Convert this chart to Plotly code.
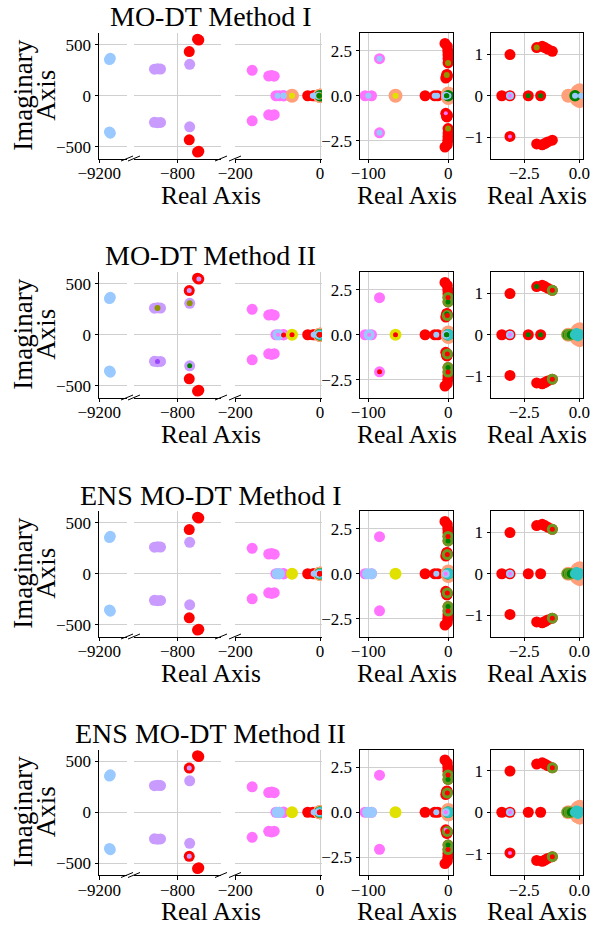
import plotly.graph_objects as go

W, H = 597, 927
FONT = "Liberation Serif"

TITLES = ["MO-DT Method I", "MO-DT Method II", "ENS MO-DT Method I", "ENS MO-DT Method II"]
X_LABEL = "Real Axis"
Y_LABEL_LINES = ["Imaginary", "Axis"]

# ---- axis ranges / ticks ----
SEG_RANGES = [[-9200.5, -9135], [-900, -700], [-200.5, 4.7]]
SEG_TICKS = [[-9200], [-800], [-200, 0]]
BIG_Y_RANGE = [-617, 617]
BIG_Y_TICKS = [-500, 0, 500]
MID_X_RANGE = [-110.4, 5.9]
MID_X_TICKS = [-100, 0]
MID_Y_RANGE = [-3.5, 3.5]
MID_Y_TICKS = [-2.5, 0, 2.5]
SMALL_X_RANGE = [-4.0, 0.17]
SMALL_X_TICKS = [-2.5, 0]
SMALL_Y_RANGE = [-1.51, 1.51]
SMALL_Y_TICKS = [-1, 0, 1]

# ---- eigenvalues common to every row ----
RED_X = [-773, -773, -751, -751, -754, -754, -29, -17, -13, -3.51, -3.14, -2.31, -1.75,
         -3.14, -3.14, -1.93, -1.93, -1.68, -1.68, -1.56, -1.56, -1.43, -1.43, -1.22, -1.22,
         -4.1, -4.1, -1.2, -1.2, -0.6, -0.6, -0.4, -0.4, -0.3, -0.3, -0.3, -0.3]
RED_Y = [434, -433, 548, -546, 556, -554, 0, 0, 0, 0, 0, 0, 0,
         0.99, -0.98, 1.16, -1.16, 1.19, -1.18, 1.16, -1.15, 1.12, -1.11, 1.07, -1.07,
         2.92, -2.86, 2.75, -2.72, 2.5, -2.5, 2.28, -2.28, 2.08, -2.08, 1.83, -1.83]
LIGHTBLUE_X = [-9176, -9174, -9176, -9174]
LIGHTBLUE_Y = [356, 368, -356, -368]
PURPLE_X = [-853, -846, -839, -853, -846, -839, -772, -772]
PURPLE_Y = [261, 265, 262, -261, -265, -262, 309, -306]
PINK_X = [-160, -160, -121, -114, -108, -121, -114, -108, -104, -96, -86, -86]
PINK_Y = [250, -246, 194, 198, 192, -188, -193, -186, 0, 0, 2.07, -2.07]
ORANGE_X = [-0.5, -0.08, -0.08, 0.02, 0.02, 0.06]
ORANGE_Y = [0, 0.1, -0.1, 0.13, -0.13, 0]

# ---- row specific eigenvalues (one list per row) ----
ORANGE_ROW_X = [[-66], [], [], []]
ORANGE_ROW_Y = [[0], [], [], []]
LIGHTBLUE_ROW_X = [[], [-99], [-101, -96], [-101, -96]]
LIGHTBLUE_ROW_Y = [[], [0], [0, 0], [0, 0]]
YELLOW_ROW_X = [[], [-66], [-66], [-66]]
YELLOW_ROW_Y = [[], [0], [0], [0]]
OLIVEDRAB_X = [[], [-0.3, -0.3, -0.3, -0.3, -1.22, -1.22]] + [[-0.3, -0.3, -0.3, -0.3, -1.22, -1.22]] * 2
OLIVEDRAB_Y = [[], [2.08, -2.08, 1.83, -1.83, 1.07, -1.07]] + [[2.08, -2.08, 1.83, -1.83, 1.07, -1.07]] * 2
GREEN_BIG_X = [[-0.19], [-0.55, -0.45, -0.38], [-0.55, -0.45, -0.38], [-0.55, -0.45, -0.38]]
GREEN_BIG_Y = [[0], [0, 0, 0], [0, 0, 0], [0, 0, 0]]
CYAN_X = [[], [-0.2, -0.12, -0.06, 0.0], [-0.2, -0.12, -0.06, 0.0], [-0.2, -0.12, -0.06, 0.0]]
CYAN_Y = [[], [0, 0.04, -0.04, 0.02], [0, 0.04, -0.04, 0.02], [0, 0.04, -0.04, 0.02]]
LIGHTBLUE_MID_X = [[-3.14], [-3.14], [-3.14], [-3.14]]
LIGHTBLUE_MID_Y = [[0], [0], [0], [0]]
YELLOW_DOT_X = [[-66], [], [], []]
YELLOW_DOT_Y = [[0], [], [], []]
LIGHTBLUE_DOT_X = [[-100, -86, -86, -17, -14, -0.19, 0.08], [-15], [-15], [-15]]
LIGHTBLUE_DOT_Y = [[0, 2.07, -2.07, 0, 0, 0, 0], [0], [0], [0]]
PINK_DOT_X = [[-3.14, -3.14], [-99, -3.14], [-3.14], [-3.14, -3.14]]
PINK_DOT_Y = [[0, -0.98], [0, 0], [0], [0, -0.98]]
PURPLE_DOT_X = [[], [-773, -751], [], [-773, -773]]
PURPLE_DOT_Y = [[], [434, 548], [], [434, -433]]
DARKPURPLE_DOT_X = [[], [-846], [], []]
DARKPURPLE_DOT_Y = [[], [-263], [], []]
OLIVE_DOT_X = [[-1.93, -0.3, -0.3], [-846, -772], [], []]
OLIVE_DOT_Y = [[1.16, 1.83, -1.83], [263, 309], [], []]
GREEN_DOT_X = [[-2.31, -1.75], [-772, -1.93, -2.31, -1.75, -0.3, -0.3], [-0.3, -0.3], [-0.3, -0.3]]
GREEN_DOT_Y = [[0, 0], [-306, 1.16, 0, 0, 1.83, -1.83], [1.83, -1.83], [1.83, -1.83]]
RED_DOT_X = [[], [-66, -86, -0.3, -0.3, -1.22, -1.22]] + [[-0.3, -0.3, -1.22, -1.22]] * 2
RED_DOT_Y = [[], [0, -2.07, 2.08, -2.08, 1.07, -1.07]] + [[2.08, -2.08, 1.07, -1.07]] * 2

C_RED = "#ff0000"
C_LB = "#99c9ff"
C_PURPLE = "#c99bff"
C_PINK = "#ff73ff"
C_ORANGE = "#ffa07a"
C_YELLOW = "#e1e100"
C_OLIVEDRAB = "#6b9a23"
C_GREEN = "#008000"
C_CYAN = "#2ec4c4"
C_OLIVE = "#8f9400"
C_DARKPURPLE = "#9b45ff"
GRID = "#cfcfcf"

# ---- layout geometry (pixels) ----
X_DOM_PX = [(99, 127), (134, 221), (235, 322), (360, 453), (491, 583)]
ROW_TOP_PX = [33, 272, 511, 749.5]
PANEL_H = 125.5

fig = go.Figure()


def xname(k):
    return "x" if k == 1 else f"x{k}"


def yname(j):
    return "y" if j == 1 else f"y{j}"


def add_layer(r, xs, ys, color, size, lw=0, lc=None):
    if not xs:
        return
    for p in range(5):
        k = r * 5 + p + 1
        g = 0 if p < 3 else p - 2
        j = r * 3 + g + 1
        fig.add_trace(go.Scatter(
            x=xs, y=ys, mode="markers",
            marker=dict(color=color, size=size, line=dict(width=lw, color=lc or color)),
            xaxis=xname(k), yaxis=yname(j), showlegend=False, hoverinfo="skip",
            cliponaxis=True))


for r in range(4):
    add_layer(r, RED_X, RED_Y, C_RED, 11)
    add_layer(r, LIGHTBLUE_X, LIGHTBLUE_Y, C_LB, 11)
    add_layer(r, PURPLE_X, PURPLE_Y, C_PURPLE, 11)
    add_layer(r, PINK_X, PINK_Y, C_PINK, 11)
    add_layer(r, ORANGE_X, ORANGE_Y, C_ORANGE, 14)
    add_layer(r, ORANGE_ROW_X[r], ORANGE_ROW_Y[r], C_ORANGE, 14)
    add_layer(r, LIGHTBLUE_ROW_X[r], LIGHTBLUE_ROW_Y[r], C_LB, 11)
    add_layer(r, YELLOW_ROW_X[r], YELLOW_ROW_Y[r], C_YELLOW, 12)
    add_layer(r, OLIVEDRAB_X[r], OLIVEDRAB_Y[r], C_OLIVEDRAB, 11)
    add_layer(r, GREEN_BIG_X[r], GREEN_BIG_Y[r], C_GREEN, 10, 1.5, C_OLIVEDRAB if r > 0 else C_GREEN)
    add_layer(r, CYAN_X[r], CYAN_Y[r], C_CYAN, 10)
    add_layer(r, LIGHTBLUE_MID_X[r], LIGHTBLUE_MID_Y[r], C_LB, 8)
    add_layer(r, YELLOW_DOT_X[r], YELLOW_DOT_Y[r], C_YELLOW, 6)
    add_layer(r, LIGHTBLUE_DOT_X[r], LIGHTBLUE_DOT_Y[r], C_LB, 6)
    add_layer(r, PINK_DOT_X[r], PINK_DOT_Y[r], C_PINK, 4)
    add_layer(r, PURPLE_DOT_X[r], PURPLE_DOT_Y[r], C_PURPLE, 5)
    add_layer(r, DARKPURPLE_DOT_X[r], DARKPURPLE_DOT_Y[r], C_DARKPURPLE, 5)
    add_layer(r, OLIVE_DOT_X[r], OLIVE_DOT_Y[r], C_OLIVE, 6)
    add_layer(r, GREEN_DOT_X[r], GREEN_DOT_Y[r], C_GREEN, 5)
    add_layer(r, RED_DOT_X[r], RED_DOT_Y[r], C_RED, 5)

tickfont = dict(family=FONT, size=17, color="black")
layout = dict(template="none", width=W, height=H, margin=dict(l=0, r=0, t=0, b=0, pad=0),
              paper_bgcolor="white", plot_bgcolor="white", showlegend=False)
annotations = []
shapes = []

for r in range(4):
    top = ROW_TOP_PX[r]
    bot = top + PANEL_H
    ydom = [1 - bot / H, 1 - top / H]
    for p in range(5):
        k = r * 5 + p + 1
        g = 0 if p < 3 else p - 2
        j = r * 3 + g + 1
        x0, x1 = X_DOM_PX[p]
        if p < 3:
            rng, tv, fmt = SEG_RANGES[p], SEG_TICKS[p], None
        elif p == 3:
            rng, tv, fmt = MID_X_RANGE, MID_X_TICKS, None
        else:
            rng, tv, fmt = SMALL_X_RANGE, SMALL_X_TICKS, ".1f"
        xa = dict(domain=[x0 / W, x1 / W], anchor=yname(j), range=rng, tickvals=tv,
                  automargin=False, ticklabelstandoff=-4,
                  showgrid=True, gridcolor=GRID, gridwidth=1, zeroline=False,
                  showline=True, linecolor="black", linewidth=1, mirror=(p >= 3),
                  ticks="outside", ticklen=3.5, tickcolor="black", tickfont=tickfont)
        if fmt:
            xa["tickformat"] = fmt
        layout["xaxis" if k == 1 else f"xaxis{k}"] = xa
        if p in (0, 3, 4):
            annotations.append(dict(text=X_LABEL, x=((x0 + x1) / 2 if p >= 3 else 210.5) / W,
                                    y=1 - (bot + 36.5) / H, xref="paper", yref="paper",
                                    showarrow=False, xanchor="center", yanchor="middle",
                                    font=dict(family=FONT, size=25.5, color="black")))
    for g in range(3):
        j = r * 3 + g + 1
        if g == 0:
            anchor, rng, tv, fmt, mir = r * 5 + 1, BIG_Y_RANGE, BIG_Y_TICKS, None, False
        elif g == 1:
            anchor, rng, tv, fmt, mir = r * 5 + 4, MID_Y_RANGE, MID_Y_TICKS, ".1f", True
        else:
            anchor, rng, tv, fmt, mir = r * 5 + 5, SMALL_Y_RANGE, SMALL_Y_TICKS, "d", True
        ya = dict(domain=ydom, anchor=xname(anchor), range=rng, tickvals=tv,
                  automargin=False,
                  showgrid=True, gridcolor=GRID, gridwidth=1, zeroline=False,
                  showline=True, linecolor="black", linewidth=1, mirror=mir,
                  ticks="outside", ticklen=3.5, tickcolor="black", tickfont=tickfont)
        if fmt:
            ya["tickformat"] = fmt
        layout["yaxis" if j == 1 else f"yaxis{j}"] = ya
    annotations.append(dict(text=TITLES[r], x=210.5 / W, y=1 - (top - 16) / H,
                            xref="paper", yref="paper", showarrow=False,
                            xanchor="center", yanchor="middle",
                            font=dict(family=FONT, size=28, color="black")))
    for txt, xc in zip(Y_LABEL_LINES, [23, 46]):
        annotations.append(dict(text=txt, x=xc / W, y=1 - (top + PANEL_H / 2) / H,
                                xref="paper", yref="paper", showarrow=False, textangle=-90,
                                xanchor="center", yanchor="middle",
                                font=dict(family=FONT, size=27, color="black")))
    for xb in (127, 134, 221, 235):
        shapes.append(dict(type="line", xref="paper", yref="paper",
                           x0=(xb - 6) / W, y0=1 - (bot + 2.5) / H,
                           x1=(xb + 6) / W, y1=1 - (bot - 2.5) / H,
                           line=dict(color="black", width=1)))

layout["annotations"] = annotations
layout["shapes"] = shapes
fig.update_layout(**layout)
fig.write_html("out.html", config={"displayModeBar": False},
               post_script="document.body.style.margin='0px';")
